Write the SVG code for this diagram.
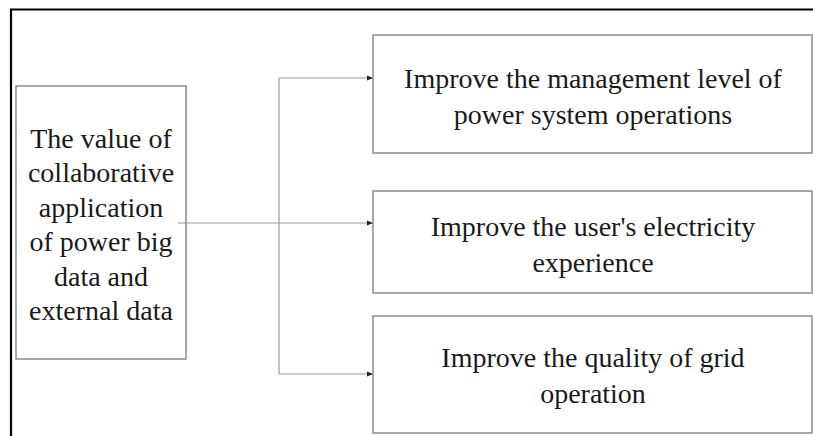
<svg xmlns="http://www.w3.org/2000/svg" width="813" height="436" viewBox="0 0 813 436">
<style>
.box{fill:#fff;stroke:#7a7a7a;stroke-width:1.3}
.t{font-family:"Liberation Serif","Times New Roman",serif;font-size:28px;fill:#1a1a1a;text-anchor:middle}
.c{fill:none;stroke:#9a9a9a;stroke-width:1.2}
.frame{fill:none;stroke:#000;stroke-width:2.2}
</style>
<defs>
<marker id="ah" markerWidth="8" markerHeight="8" refX="7" refY="4" orient="auto" markerUnits="userSpaceOnUse">
<path d="M1,1.5 L7,4 L1,6.5 Z" fill="#222"/>
</marker>
</defs>
<rect width="813" height="436" fill="#fff"/>
<path class="frame" d="M11,436 L11,9.5 L813,9.5"/>
<g id="source">
<rect class="box" x="16" y="86" width="170" height="273"/>
<text class="t" x="101" y="148">The value of</text>
<text class="t" x="101" y="182">collaborative</text>
<text class="t" x="101" y="217">application</text>
<text class="t" x="101" y="251">of power big</text>
<text class="t" x="101" y="286">data and</text>
<text class="t" x="101" y="320">external data</text>
</g>
<g id="n1">
<rect class="box" x="373" y="35" width="439" height="118"/>
<text class="t" x="593" y="88">Improve the management level of</text>
<text class="t" x="593" y="124">power system operations</text>
</g>
<g id="n2">
<rect class="box" x="373" y="191" width="439" height="102"/>
<text class="t" x="593" y="236">Improve the user's electricity</text>
<text class="t" x="593" y="272">experience</text>
</g>
<g id="n3">
<rect class="box" x="373" y="316" width="439" height="117"/>
<text class="t" x="593" y="367">Improve the quality of grid</text>
<text class="t" x="593" y="403">operation</text>
</g>
<g id="connectors">
<path class="c" d="M178,223 L373,223" marker-end="url(#ah)"/>
<path class="c" d="M279,78 L279,374"/>
<path class="c" d="M279,78 L373,78" marker-end="url(#ah)"/>
<path class="c" d="M279,374 L373,374" marker-end="url(#ah)"/>
</g>
</svg>
